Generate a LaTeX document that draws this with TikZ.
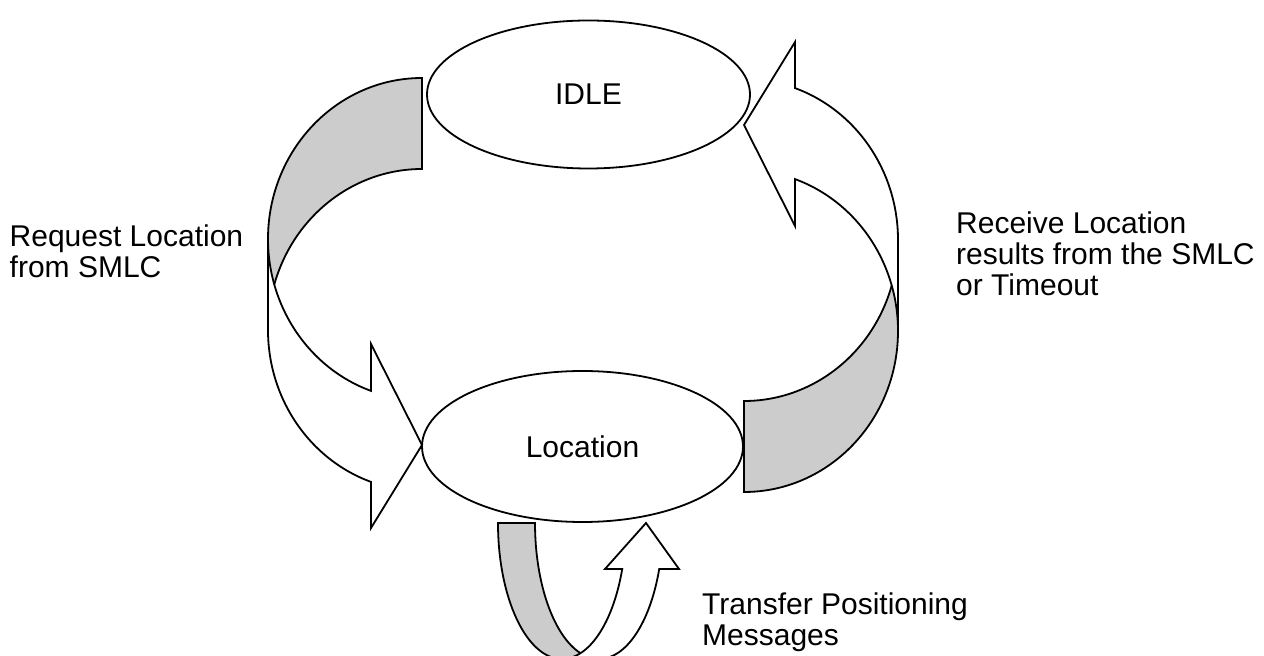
\documentclass[tikz,border=0pt]{standalone}
\usepackage{fontspec}
\setmainfont{Liberation Sans}
\usetikzlibrary{shapes.geometric}
\definecolor{backgray}{RGB}{204,204,204}
\tikzset{
  outline/.style={draw=black, line width=1.8pt, line join=miter},
  frontface/.style={fill=white},
  backface/.style={fill=backgray},
  statenode/.style={ellipse, draw=black, line width=1.8pt, fill=white, inner sep=0pt,
    font=\fontsize{30}{31}\selectfont},
  txtlabel/.style={font=\fontsize{30}{31}\selectfont, align=left, inner sep=0pt, anchor=base west},
}
% curved block arrow in a local frame: #1 w, #2 hR, #3 th, #4 ah, #5 y4, #6 y6 (tip), #7 y8
\newcommand\curvedblockarrow[7]{%
  \pgfmathsetmacro\caA{acos(#4/#1)}%
  \pgfmathsetmacro\caP{asin(#3/(2*#2))}%
  \pgfmathsetmacro\caYs{#2+#3+#2*sin(\caA)}%
  \path[frontface] (#1,#2) arc[start angle=0, end angle=\caA, x radius=#1, y radius=#2]
    -- (#4,#5) -- (0,#6) -- (#4,#7) -- (#4,\caYs)
    arc[start angle=\caA, end angle=0, x radius=#1, y radius=#2] -- cycle;
  \path[backface] (0,0) arc[start angle=-90, end angle=\caP, x radius=#1, y radius=#2]
    arc[start angle=-\caP, end angle=-90, x radius=#1, y radius=#2] -- cycle;
  \draw[outline] (#1,#2) arc[start angle=0, end angle=\caA, x radius=#1, y radius=#2]
    -- (#4,#5) -- (0,#6) -- (#4,#7) -- (#4,\caYs)
    arc[start angle=\caA, end angle=0, x radius=#1, y radius=#2] -- cycle;
  \draw[outline] (#1,#2) arc[start angle=0, end angle=-90, x radius=#1, y radius=#2]
    -- (0,#3) arc[start angle=-90, end angle=-\caP, x radius=#1, y radius=#2];
}
\begin{document}
\begin{tikzpicture}[x=1pt, y=1pt]
\useasboundingbox (0,0) rectangle (1264,656);
\clip (0,0) rectangle (1264,656);
\fill[white] (0,0) rectangle (1264,656);
% left arrow: Request Location
\begin{scope}[cm={-1,0,0,-1,(422,578)}]
  \curvedblockarrow{154}{161}{91}{51}{266}{367}{450}
\end{scope}
% right arrow: Receive Location
\begin{scope}[cm={1,0,0,1,(744,164)}]
  \curvedblockarrow{154}{161}{91}{51}{266}{367}{450}
\end{scope}
% bottom arrow: Transfer Positioning Messages
\begin{scope}[cm={0,-1,1,0,(498,133)}]
  \curvedblockarrow{136}{64}{37}{46}{107}{148}{181}
\end{scope}
% states
\node[statenode, minimum width=323pt, minimum height=148pt] (idle) at (588.5,561.5) {IDLE};
\node[statenode, minimum width=321pt, minimum height=151pt] (loc) at (582.5,209.5) {Location};
% labels (anchor = baseline of last line)
\node[txtlabel] (reqlbl) at (9.5,378.5) {Request Location\\from SMLC};
\node[txtlabel] (rcvlbl) at (956,360) {Receive Location\\results from the SMLC\\or Timeout};
\node[txtlabel] (trlbl) at (702,10) {Transfer Positioning\\Messages};
\end{tikzpicture}
\end{document}
